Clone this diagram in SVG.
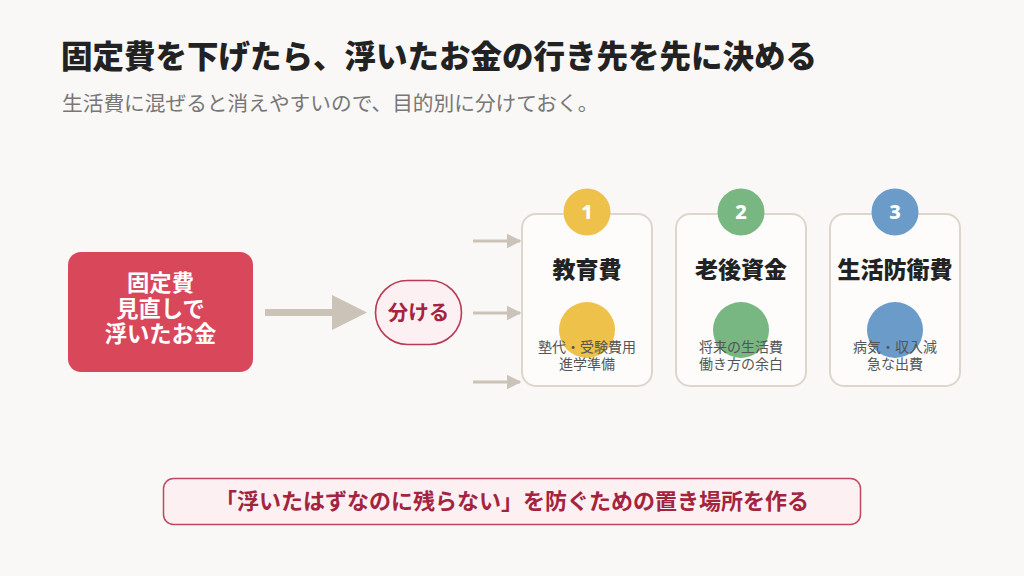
<svg xmlns="http://www.w3.org/2000/svg" width="1024" height="576" viewBox="0 0 1024 576">
<defs>
<style>
.jp{font-family:"Noto Sans CJK JP","Noto Sans",sans-serif}
.title{font-size:31.5px;font-weight:900;fill:#222}
.sub{font-size:20.7px;font-weight:400;fill:#777}
.card{fill:#fdfcfa;stroke:#ddd6cb;stroke-width:2}
.ctitle{font-size:23px;font-weight:900;fill:#222;text-anchor:middle}
.desc{font-size:14px;font-weight:400;fill:#555;text-anchor:middle}
.num{font-family:"Noto Sans","DejaVu Sans",sans-serif;font-size:20px;font-weight:800;fill:#fff;text-anchor:middle}
.conn{stroke:#cbc3b8;fill:none}
.head{fill:#cbc3b8}
.wt{font-size:22.3px;font-weight:700;fill:#fff;text-anchor:middle}
</style>
<marker id="ah" viewBox="0 0 10 10" refX="9" refY="5" markerWidth="5" markerHeight="5" markerUnits="strokeWidth" orient="auto">
<path d="M0,0 L10,5 L0,10 z" fill="#cbc3b8"/>
</marker>
</defs>
<rect width="1024" height="576" fill="#f9f8f6"/>
<text class="jp title" x="61" y="68">固定費を下げたら、浮いたお金の行き先を先に決める</text>
<text class="jp sub" x="62" y="111">生活費に混ぜると消えやすいので、目的別に分けておく。</text>

<g id="connectors">
<line class="conn" x1="265" y1="312.5" x2="334" y2="312.5" stroke-width="7"/>
<path class="head" d="M332,295 L367,312.5 L332,330 z"/>
<line class="conn" x1="473" y1="241" x2="520" y2="241" stroke-width="3" marker-end="url(#ah)"/>
<line class="conn" x1="473" y1="313" x2="520" y2="313" stroke-width="3" marker-end="url(#ah)"/>
<line class="conn" x1="473" y1="382" x2="520" y2="382" stroke-width="3" marker-end="url(#ah)"/>
</g>

<g id="source">
<rect x="68" y="252" width="185" height="120" rx="13" fill="#d9475b"/>
<text class="jp wt" x="160.5" y="291">固定費</text>
<text class="jp wt" x="160.5" y="316.5">見直しで</text>
<text class="jp wt" x="160.5" y="342">浮いたお金</text>
</g>

<g id="split">
<rect x="375.5" y="280.5" width="86" height="64" rx="32" fill="#fdf0f2" stroke="#b93b55" stroke-width="1.6"/>
<text class="jp" x="418.5" y="320" font-size="20.5" font-weight="700" fill="#a3243e" text-anchor="middle">分ける</text>
</g>

<g id="card1">
<rect class="card" x="522" y="214" width="130" height="172" rx="14"/>
<circle cx="587" cy="212" r="23.5" fill="#eec14b"/>
<text class="num" x="587" y="219">1</text>
<text class="jp ctitle" x="587" y="278">教育費</text>
<circle cx="587" cy="330" r="28" fill="#eec14b"/>
<text class="jp desc" x="587" y="352">塾代・受験費用</text>
<text class="jp desc" x="587" y="369">進学準備</text>
</g>

<g id="card2">
<rect class="card" x="676" y="214" width="130" height="172" rx="14"/>
<circle cx="741" cy="212" r="23.5" fill="#78b682"/>
<text class="num" x="741" y="219">2</text>
<text class="jp ctitle" x="741" y="278">老後資金</text>
<circle cx="741" cy="330" r="28" fill="#78b682"/>
<text class="jp desc" x="741" y="352">将来の生活費</text>
<text class="jp desc" x="741" y="369">働き方の余白</text>
</g>

<g id="card3">
<rect class="card" x="830" y="214" width="130" height="172" rx="14"/>
<circle cx="895" cy="212" r="23.5" fill="#6b9bc9"/>
<text class="num" x="895" y="219">3</text>
<text class="jp ctitle" x="895" y="278">生活防衛費</text>
<circle cx="895" cy="330" r="28" fill="#6b9bc9"/>
<text class="jp desc" x="895" y="352">病気・収入減</text>
<text class="jp desc" x="895" y="369">急な出費</text>
</g>

<g id="note">
<rect x="163.5" y="478.5" width="697" height="46" rx="10" fill="#fdf0f2" stroke="#c0485f" stroke-width="1.5"/>
<text class="jp" x="512" y="509" font-size="22" font-weight="700" fill="#a3243e" text-anchor="middle">「浮いたはずなのに残らない」を防ぐための置き場所を作る</text>
</g>
</svg>
